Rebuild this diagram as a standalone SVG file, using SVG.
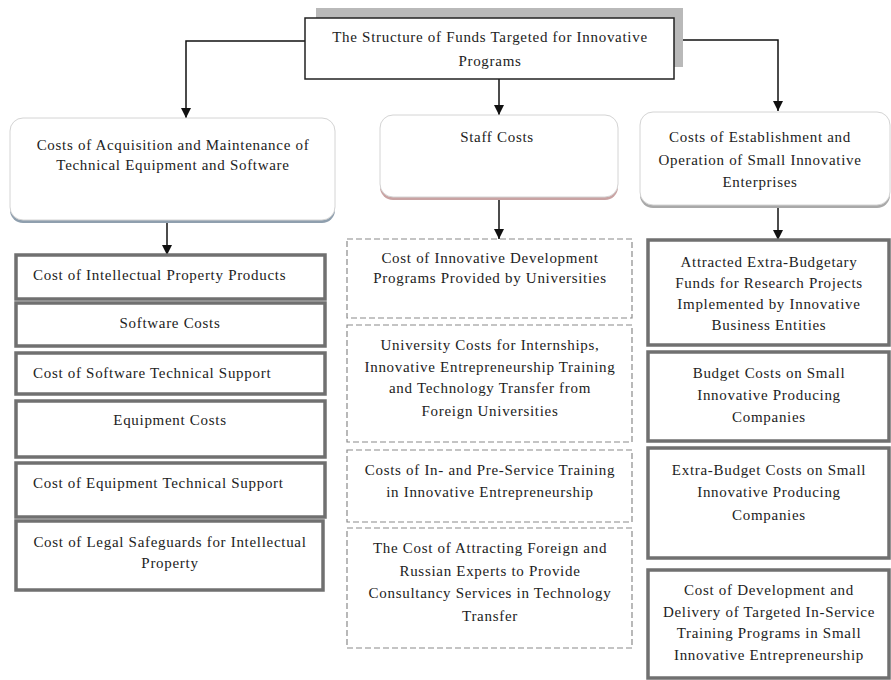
<svg xmlns="http://www.w3.org/2000/svg" width="891" height="680" viewBox="0 0 891 680">
<defs>
<marker id="arr" markerUnits="userSpaceOnUse" markerWidth="10" markerHeight="11" refX="10" refY="5" orient="auto" viewBox="0 0 10 10">
<path d="M0,0 L10,5 L0,10 z" fill="#111"/>
</marker>
<style>
text{font-family:"Liberation Serif","Times New Roman",serif;font-size:15px;fill:#222;letter-spacing:0.7px}
.c{text-anchor:middle}
.solid{fill:#fff;stroke:#707070;stroke-width:3.5}
.dash{fill:#fff;stroke:#8a8a8a;stroke-width:1.2;stroke-dasharray:6 3}
.round{fill:#fff;stroke:#d4d4d4;stroke-width:1}
.conn{fill:none;stroke:#111;stroke-width:1.5}
</style>
</defs>
<rect width="891" height="680" fill="#fff"/>

<g id="connectors">
<path class="conn" d="M305,41 H186 V118" marker-end="url(#arr)"/>
<path class="conn" d="M499,79 V115" marker-end="url(#arr)"/>
<path class="conn" d="M674,40 H778 V111" marker-end="url(#arr)"/>
<path class="conn" d="M167,222 V255" marker-end="url(#arr)"/>
<path class="conn" d="M499,200 V239" marker-end="url(#arr)"/>
<path class="conn" d="M778,207 V240" marker-end="url(#arr)"/>
</g>

<g id="root">
<rect x="316" y="8" width="367" height="59" fill="#b9b9b9"/>
<rect x="305" y="18" width="369" height="61" fill="#fff" stroke="#222" stroke-width="1.5"/>
<text class="c" x="490" y="42">The Structure of Funds Targeted for Innovative</text>
<text class="c" x="490" y="66">Programs</text>
</g>

<g id="cat-equipment">
<rect x="10" y="121" width="325" height="102" rx="13" fill="#8f9fae"/>
<rect class="round" x="10" y="118" width="325" height="102" rx="13"/>
<text class="c" x="173" y="150">Costs of Acquisition and Maintenance of</text>
<text class="c" x="173" y="170">Technical Equipment and Software</text>
</g>

<g id="cat-staff">
<rect x="380" y="118" width="238" height="82" rx="13" fill="#c9a3a3"/>
<rect class="round" x="380" y="115" width="238" height="82" rx="13"/>
<text class="c" x="497" y="142">Staff Costs</text>
</g>

<g id="cat-enterprises">
<rect x="640" y="115" width="250" height="93" rx="13" fill="#a9a9a9"/>
<rect class="round" x="640" y="112" width="250" height="93" rx="13"/>
<text class="c" x="760" y="142">Costs of Establishment and</text>
<text class="c" x="760" y="165">Operation of Small Innovative</text>
<text class="c" x="760" y="187">Enterprises</text>
</g>

<g id="eq-1">
<rect class="solid" x="16" y="255" width="309" height="44"/>
<text x="33" y="280">Cost of Intellectual Property Products</text>
</g>
<g id="eq-2">
<rect class="solid" x="16" y="303" width="309" height="43"/>
<text class="c" x="170" y="328">Software Costs</text>
</g>
<g id="eq-3">
<rect class="solid" x="16" y="353" width="309" height="41"/>
<text x="33" y="378">Cost of Software Technical Support</text>
</g>
<g id="eq-4">
<rect class="solid" x="16" y="401" width="309" height="56"/>
<text class="c" x="170" y="425">Equipment Costs</text>
</g>
<g id="eq-5">
<rect class="solid" x="16" y="463" width="309" height="54"/>
<text x="33" y="488">Cost of Equipment Technical Support</text>
</g>
<g id="eq-6">
<rect class="solid" x="16" y="521" width="307" height="69"/>
<text class="c" x="170" y="547">Cost of Legal Safeguards for Intellectual</text>
<text class="c" x="170" y="568">Property</text>
</g>

<g id="staff-1">
<rect class="dash" x="347" y="239" width="285" height="79"/>
<text class="c" x="490" y="263">Cost of Innovative Development</text>
<text class="c" x="490" y="283">Programs Provided by Universities</text>
</g>
<g id="staff-2">
<rect class="dash" x="347" y="325" width="285" height="117"/>
<text class="c" x="490" y="350">University Costs for Internships,</text>
<text class="c" x="490" y="372">Innovative Entrepreneurship Training</text>
<text class="c" x="490" y="393">and Technology Transfer from</text>
<text class="c" x="490" y="416">Foreign Universities</text>
</g>
<g id="staff-3">
<rect class="dash" x="347" y="450" width="285" height="72"/>
<text class="c" x="490" y="475">Costs of In- and Pre-Service Training</text>
<text class="c" x="490" y="497">in Innovative Entrepreneurship</text>
</g>
<g id="staff-4">
<rect class="dash" x="347" y="528" width="285" height="120"/>
<text class="c" x="490" y="553">The Cost of Attracting Foreign and</text>
<text class="c" x="490" y="576">Russian Experts to Provide</text>
<text class="c" x="490" y="598">Consultancy Services in Technology</text>
<text class="c" x="490" y="621">Transfer</text>
</g>

<g id="ent-1">
<rect class="solid" x="648" y="240" width="241" height="105"/>
<text class="c" x="769" y="267">Attracted Extra-Budgetary</text>
<text class="c" x="769" y="288">Funds for Research Projects</text>
<text class="c" x="769" y="309">Implemented by Innovative</text>
<text class="c" x="769" y="330">Business Entities</text>
</g>
<g id="ent-2">
<rect class="solid" x="648" y="352" width="241" height="89"/>
<text class="c" x="769" y="378">Budget Costs on Small</text>
<text class="c" x="769" y="400">Innovative Producing</text>
<text class="c" x="769" y="422">Companies</text>
</g>
<g id="ent-3">
<rect class="solid" x="648" y="448" width="241" height="110"/>
<text class="c" x="769" y="475">Extra-Budget Costs on Small</text>
<text class="c" x="769" y="497">Innovative Producing</text>
<text class="c" x="769" y="520">Companies</text>
</g>
<g id="ent-4">
<rect class="solid" x="648" y="570" width="241" height="108"/>
<text class="c" x="769" y="595">Cost of Development and</text>
<text class="c" x="769" y="617">Delivery of Targeted In-Service</text>
<text class="c" x="769" y="638">Training Programs in Small</text>
<text class="c" x="769" y="660">Innovative Entrepreneurship</text>
</g>
</svg>
